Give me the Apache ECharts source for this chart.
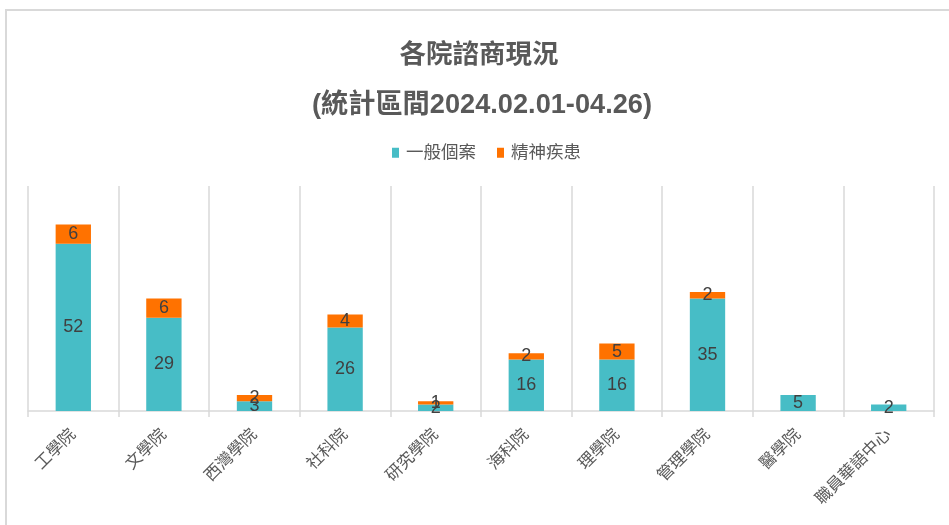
<!DOCTYPE html>
<html>
<head>
<meta charset="utf-8">
<script src="https://cdn.jsdelivr.net/npm/echarts@6/dist/echarts.min.js"></script>
<style>
html,body{margin:0;padding:0;background:#fff;overflow:hidden;}
#frame{position:absolute;left:5px;top:9px;width:1000px;height:600px;border:2px solid #D9D9D9;box-sizing:border-box;}
#chart{position:absolute;left:0;top:0;width:949px;height:525px;}
</style>
</head>
<body>
<div id="frame"></div>
<div id="chart"></div>
<script>
const categories = ['工學院','文學院','西灣學院','社科院','研究學院','海科院','理學院','管理學院','醫學院','職員華語中心'];
const generalCases = [52, 29, 3, 26, 2, 16, 16, 35, 5, 2];
const mentalCases = [6, 6, 2, 4, 1, 2, 5, 2, 0, 0];
const seriesNames = ['一般個案', '精神疾患'];
const titleText = '各院諮商現況';
const subTitleText = '(統計區間2024.02.01-04.26)';

const FONT = '"Liberation Sans", "Noto Sans CJK TC", sans-serif';
const chart = echarts.init(document.getElementById('chart'));
const labelCfg = {
  show: true, position: 'inside', color: '#404040', fontSize: 18, fontFamily: FONT,
  formatter: p => (p.value ? String(p.value) : '')
};
chart.setOption({
  animation: false,
  textStyle: { fontFamily: FONT },
  title: [
    { text: titleText, left: 474, textAlign: 'center', top: 37, textStyle: { fontSize: 26.5, fontWeight: 'bold', color: '#595959', fontFamily: FONT } },
    { text: subTitleText, left: 477, textAlign: 'center', top: 87, textStyle: { fontSize: 27.2, fontWeight: 'bold', color: '#595959', fontFamily: FONT } }
  ],
  legend: {
    data: seriesNames, left: 387, top: 139, itemWidth: 7, itemHeight: 10, itemGap: 21,
    icon: 'rect', textStyle: { fontSize: 17.5, color: '#595959', fontFamily: FONT, padding: [0, 0, 0, 2] }
  },
  grid: { left: 28, right: 15, top: 186, bottom: 114, containLabel: false },
  xAxis: {
    type: 'category', data: categories,
    axisLine: { lineStyle: { color: '#D9D9D9', width: 1.5 } },
    axisTick: { show: true, length: 6, lineStyle: { color: '#D9D9D9', width: 1.5 } },
    splitLine: { show: true, lineStyle: { color: '#D9D9D9', width: 1.5 } },
    axisLabel: { rotate: 45, color: '#595959', fontSize: 16.5, fontFamily: FONT, margin: 21, interval: 0 }
  },
  yAxis: {
    type: 'value', min: 0, max: 70, interval: 10,
    axisLabel: { show: false }, axisLine: { show: false }, axisTick: { show: false }, splitLine: { show: false }
  },
  series: [
    { name: seriesNames[0], type: 'bar', stack: 's', data: generalCases, barCategoryGap: '61%', itemStyle: { color: '#47BDC6' }, label: labelCfg },
    { name: seriesNames[1], type: 'bar', stack: 's', data: mentalCases, barCategoryGap: '61%', itemStyle: { color: '#FF7200' }, label: labelCfg }
  ]
});
</script>
</body>
</html>
